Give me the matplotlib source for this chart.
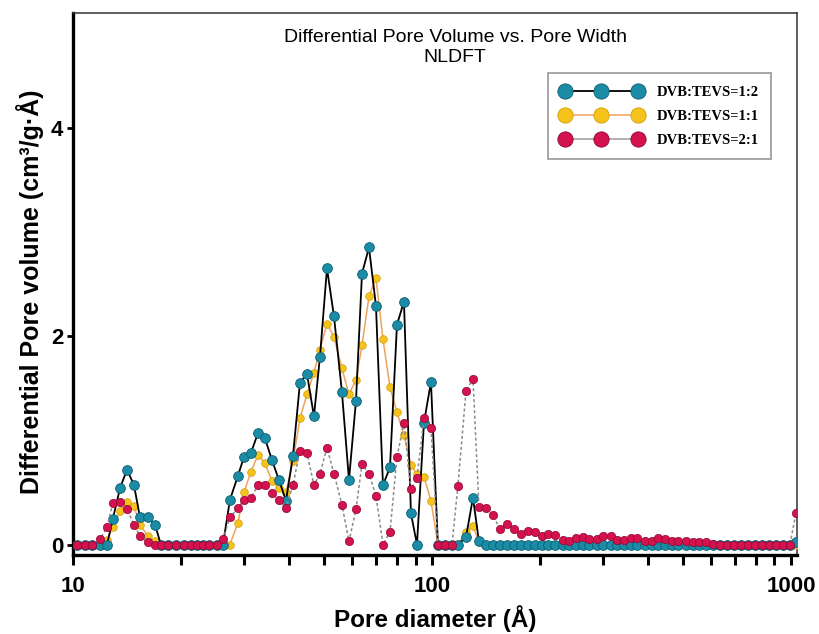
import matplotlib
matplotlib.use("Agg")
import matplotlib.pyplot as plt
from matplotlib.lines import Line2D

# pore widths (Angstrom)
pore_width = [10.26, 10.80, 11.33, 11.89, 12.44, 12.92, 13.52, 14.14, 14.79, 15.37,
              16.18, 16.92, 17.58, 18.45, 19.36, 20.38, 21.32, 22.15, 23.02, 23.93,
              25.18, 26.17, 27.37, 28.81, 29.94, 31.32, 32.76, 34.26, 35.83, 37.48,
              39.20, 41.00, 42.88, 44.85, 46.91, 48.75, 51.00, 53.34, 56.15, 58.73,
              61.43, 63.84, 66.77, 69.83, 73.04, 76.39, 79.90, 83.56, 87.40, 90.83,
              95.00, 99.36, 103.9, 108.7, 113.7, 118.1, 124.4, 130.1, 135.2, 141.4,
              147.9, 154.7, 161.8, 169.2, 177.0, 185.1, 193.6, 202.5, 210.4, 220.1,
              231.7, 240.8, 251.8, 263.4, 273.7, 288.1, 299.4, 315.2, 327.6, 342.6,
              358.3, 372.4, 392.0, 410.0, 426.1, 445.7, 466.1, 484.4, 510.0, 533.4,
              554.3, 579.8, 606.4, 634.2, 663.3, 693.7, 725.5, 758.8, 793.6, 830.0,
              868.1, 907.9, 949.4, 993.6, 1032.6]

# DVB:TEVS=1:2
dvb_1_2 = [0, 0, 0, 0, 0, 0.25, 0.54, 0.72, 0.57, 0.26,
           0.26, 0.19, 0, 0, 0, 0, 0, 0, 0, 0,
           0, 0, 0.43, 0.66, 0.84, 0.88, 1.07, 1.02, 0.81, 0.62,
           0.42, 0.85, 1.55, 1.64, 1.23, 1.80, 2.65, 2.19, 1.46, 0.62,
           1.38, 2.60, 2.85, 2.29, 0.57, 0.74, 2.11, 2.33, 0.30, 0.0,
           1.17, 1.56, 0, 0, 0, 0, 0.07, 0.45, 0.03, 0,
           0, 0, 0, 0, 0, 0, 0, 0, 0, 0,
           0, 0, 0, 0, 0, 0, 0, 0, 0, 0,
           0, 0, 0, 0, 0, 0, 0, 0, 0, 0,
           0, 0, 0, 0, 0, 0, 0, 0, 0, 0,
           0, 0, 0, 0, 0.02]

# DVB:TEVS=1:1
dvb_1_1 = [0, 0, 0, 0, 0.04, 0.17, 0.32, 0.41, 0.37, 0.19,
           0.08, 0.03, 0, 0, 0, 0, 0, 0, 0, 0,
           0, 0, 0, 0.21, 0.50, 0.70, 0.86, 0.78, 0.61, 0.54,
           0.50, 0.80, 1.21, 1.44, 1.65, 1.87, 2.12, 1.99, 1.69, 1.44,
           1.58, 1.91, 2.38, 2.56, 1.97, 1.51, 1.27, 1.05, 0.76, 0.68,
           0.65, 0.42, 0, 0, 0, 0, 0.12, 0.18, 0.02, 0,
           0, 0, 0, 0, 0, 0, 0, 0, 0, 0,
           0, 0, 0, 0, 0, 0, 0, 0, 0, 0,
           0, 0, 0, 0, 0, 0, 0, 0, 0, 0,
           0, 0, 0, 0, 0, 0, 0, 0, 0, 0,
           0, 0, 0, 0, 0]

# DVB:TEVS=2:1
dvb_2_1 = [0, 0, 0, 0.05, 0.17, 0.40, 0.41, 0.34, 0.19, 0.08,
           0.02, 0, 0, 0, 0, 0, 0, 0, 0, 0,
           0, 0.05, 0.26, 0.35, 0.43, 0.45, 0.57, 0.57, 0.49, 0.43,
           0.35, 0.57, 0.90, 0.88, 0.57, 0.68, 0.93, 0.68, 0.38, 0.03,
           0.34, 0.77, 0.68, 0.47, 0.0, 0.12, 0.84, 1.17, 0.53, 0.64,
           1.21, 1.12, 0, 0, 0, 0.56, 1.47, 1.59, 0.36, 0.35,
           0.28, 0.15, 0.20, 0.15, 0.10, 0.13, 0.12, 0.08, 0.10, 0.09,
           0.04, 0.03, 0.06, 0.07, 0.05, 0.05, 0.08, 0.08, 0.04, 0.04,
           0.06, 0.06, 0.03, 0.03, 0.06, 0.05, 0.03, 0.03, 0.03, 0.02,
           0.02, 0.02, 0.01, 0, 0, 0, 0, 0, 0, 0,
           0, 0, 0, 0, 0.30]

labels = ["DVB:TEVS=1:2", "DVB:TEVS=1:1", "DVB:TEVS=2:1"]
x_ticks = [10, 100, 1000]
y_ticks = [0, 2, 4]

teal, teal_edge = "#1a8ca6", "#0b5d70"
gold, gold_edge = "#f6c21c", "#d29d00"
crim, crim_edge = "#d3124e", "#8f0733"

bold_font = ["Liberation Sans", "DejaVu Sans"]

fig = plt.figure(figsize=(8.2, 6.34), dpi=100)
ax = fig.add_axes([0.089, 0.1246, 0.883, 0.855])

# yellow under teal, crimson on top (as in the original)
ax.plot(pore_width, dvb_1_1, color="#f0a25c", lw=1.1, marker="o", ms=5.5,
        mfc=gold, mec=gold_edge, mew=0.5, zorder=3)
ax.plot(pore_width, dvb_1_2, color="black", lw=1.3, marker="o", ms=7,
        mfc=teal, mec=teal_edge, mew=0.6, zorder=4)
ax.plot(pore_width, dvb_2_1, color="#8a8a8a", lw=1.1, ls=(0, (2, 1.6)), marker="o", ms=6,
        mfc=crim, mec=crim_edge, mew=0.5, zorder=5)

ax.set_xscale("log")
ax.set_xlim(10, 1040)
ax.set_ylim(-0.1, 5.1)
ax.set_xticks(x_ticks)
ax.set_xticklabels([str(t) for t in x_ticks])
ax.set_yticks(y_ticks)
ax.set_yticklabels([str(t) for t in y_ticks])
ax.tick_params(axis="x", which="both", direction="out", length=7, width=2.2, pad=8)
ax.tick_params(axis="y", which="major", direction="out", length=4, width=2, pad=3)
ax.tick_params(axis="y", which="minor", left=False)
for lab in ax.get_xticklabels() + ax.get_yticklabels():
    lab.set_family(bold_font)
    lab.set_fontweight("bold")
    lab.set_fontsize(16)

ax.spines["left"].set_linewidth(2.4)
ax.spines["bottom"].set_linewidth(2.4)
ax.spines["top"].set_linewidth(1.1)
ax.spines["right"].set_linewidth(1.1)
ax.spines["top"].set_color("#333333")
ax.spines["right"].set_color("#333333")

ax.set_xlabel("Pore diameter (Å)", family=bold_font, fontweight="bold", fontsize=17.5, labelpad=6)
ax.set_ylabel("Differential Pore volume (cm³/g·Å)", family=bold_font, fontweight="bold",
              fontsize=18)
ax.yaxis.set_label_coords(-0.040, 0.485)

ax.text(0.528, 0.936, "Differential Pore Volume vs. Pore Width\nNLDFT", transform=ax.transAxes,
        ha="center", va="center", fontsize=14, family=["Liberation Sans", "DejaVu Sans"],
        linespacing=1.2)

handles = [
    Line2D([], [], color="black", lw=1.3, marker="o", ms=11, mfc=teal, mec=teal_edge, mew=0.6),
    Line2D([], [], color="#f0a25c", lw=1.1, marker="o", ms=11, mfc=gold, mec=gold_edge, mew=0.6),
    Line2D([], [], color="#9a9a9a", lw=1.1, marker="o", ms=11, mfc=crim, mec=crim_edge, mew=0.6),
]
leg = ax.legend(handles, labels, loc="upper left", bbox_to_anchor=(0.656, 0.889), numpoints=3,
                borderaxespad=0, handlelength=5.6, handletextpad=1.0, borderpad=0.85,
                labelspacing=0.75, frameon=True, fancybox=False, edgecolor="#888888",
                prop={"family": ["Liberation Serif", "DejaVu Serif"], "weight": "bold", "size": 10.5})
leg.get_frame().set_linewidth(1.3)

fig.savefig("out.png", dpi=100)
